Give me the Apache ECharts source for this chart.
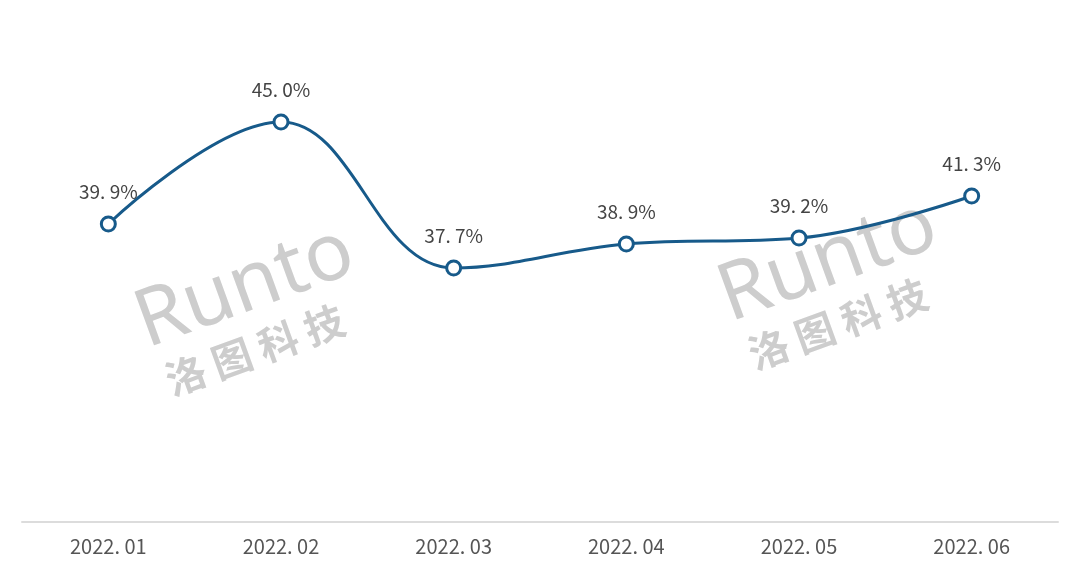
<!DOCTYPE html>
<html><head><meta charset="utf-8">
<script src="https://cdn.jsdelivr.net/npm/echarts@6/dist/echarts.min.js"></script>
<style>html,body{margin:0;padding:0;background:#fff}#c{width:1080px;height:573px}</style>
</head><body><div id="c"></div>
<script>
var categories = ['2022.01','2022.02','2022.03','2022.04','2022.05','2022.06'];
var values = [39.9, 45.0, 37.7, 38.9, 39.2, 41.3];

var chart = echarts.init(document.getElementById('c'));
function wm(x, y) {
  return [
    {type:'text', x:x, y:y, rotation:20*Math.PI/180, z:-1,
     style:{text:'Runto', font:'normal 80px "Noto Sans"', fill:'#cdcdcd', textAlign:'center', textVerticalAlign:'middle'}},
    {type:'text', x:x+10, y:y+62, rotation:20*Math.PI/180, z:-1,
     style:{text:'洛 图 科 技', font:'bold 40px "Noto Sans CJK SC"', fill:'#cdcdcd', textAlign:'center', textVerticalAlign:'middle'}}
  ];
}
chart.setOption({
  animation:false,
  backgroundColor:'#fff',
  grid:{left:22, right:22, top:22, bottom:51},
  graphic: wm(245, 288).concat(wm(828, 262)),
  xAxis:{type:'category', data:categories, boundaryGap:true,
    axisLine:{lineStyle:{color:'#dcdcdc', width:2}},
    axisTick:{show:false},
    axisLabel:{color:'#555', fontSize:20, margin:14, fontFamily:'"Noto Sans CJK SC"',
      formatter:function(v){return v.replace('.', '. ');}}},
  yAxis:{type:'value', min:25, max:50, show:false, splitLine:{show:false}},
  series:[{
    type:'line', data:values, smooth:0.4,
    lineStyle:{color:'#175a8a', width:3},
    itemStyle:{color:'#fff', borderColor:'#175a8a', borderWidth:3},
    symbol:'circle', symbolSize:14,
    label:{show:true, position:'top', distance:14, color:'#444', fontSize:19, fontFamily:'"Noto Sans CJK SC"',
      formatter:function(p){return p.value.toFixed(1).replace('.', '. ')+'%';}}
  }]
});
</script></body></html>
